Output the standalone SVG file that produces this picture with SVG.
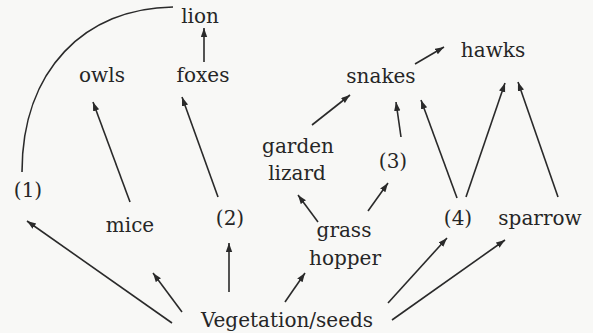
<svg xmlns="http://www.w3.org/2000/svg" width="593" height="333" viewBox="0 0 593 333">
<style>
.t{font-family:"DejaVu Serif","Liberation Serif",serif;font-size:20px;fill:#262626;text-anchor:middle}
.c line,.c path{stroke:#2a2a2a;stroke-width:1.6;fill:none}
</style>
<defs>
<marker id="ah" markerUnits="userSpaceOnUse" markerWidth="10" markerHeight="8" refX="9" refY="3.2" orient="auto">
<path d="M0,0 L9,3.2 L0,6.4 z" fill="#2a2a2a"/>
</marker>
</defs>
<rect width="593" height="333" fill="#f8f8f6"/>
<g class="c" id="connectors">
<path d="M22,172 C22,70 85,8 173,7"/>
<line x1="204" y1="62" x2="204" y2="28" marker-end="url(#ah)"/>
<line x1="130" y1="202" x2="93" y2="102" marker-end="url(#ah)"/>
<line x1="218" y1="197" x2="182" y2="97" marker-end="url(#ah)"/>
<line x1="172" y1="323" x2="27" y2="221" marker-end="url(#ah)"/>
<line x1="182" y1="312" x2="153" y2="273" marker-end="url(#ah)"/>
<line x1="229" y1="292" x2="229" y2="243" marker-end="url(#ah)"/>
<line x1="285" y1="302" x2="305" y2="273" marker-end="url(#ah)"/>
<line x1="318" y1="222" x2="298" y2="195" marker-end="url(#ah)"/>
<line x1="368" y1="211" x2="388" y2="183" marker-end="url(#ah)"/>
<line x1="312" y1="125" x2="350" y2="95" marker-end="url(#ah)"/>
<line x1="401" y1="137" x2="396" y2="102" marker-end="url(#ah)"/>
<line x1="457" y1="198" x2="421" y2="100" marker-end="url(#ah)"/>
<line x1="466" y1="197" x2="505" y2="83" marker-end="url(#ah)"/>
<line x1="558" y1="197" x2="518" y2="82" marker-end="url(#ah)"/>
<line x1="415" y1="64" x2="444" y2="47" marker-end="url(#ah)"/>
<line x1="388" y1="303" x2="447" y2="238" marker-end="url(#ah)"/>
<line x1="392" y1="320" x2="505" y2="240" marker-end="url(#ah)"/>
</g>
<g id="lion"><text class="t" x="200" y="23">lion</text></g>
<g id="owls"><text class="t" x="102" y="82">owls</text></g>
<g id="foxes"><text class="t" x="203" y="82">foxes</text></g>
<g id="snakes"><text class="t" x="381" y="83">snakes</text></g>
<g id="hawks"><text class="t" x="493" y="57">hawks</text></g>
<g id="garden-lizard"><text class="t" x="298" y="153">garden</text><text class="t" x="297" y="180">lizard</text></g>
<g id="n3"><text class="t" x="393" y="168">(3)</text></g>
<g id="n1"><text class="t" x="28" y="197">(1)</text></g>
<g id="mice"><text class="t" x="130" y="232">mice</text></g>
<g id="n2"><text class="t" x="230" y="225">(2)</text></g>
<g id="grasshopper"><text class="t" x="344" y="237">grass</text><text class="t" x="345" y="265">hopper</text></g>
<g id="n4"><text class="t" x="458" y="225">(4)</text></g>
<g id="sparrow"><text class="t" x="540" y="225">sparrow</text></g>
<g id="vegetation"><text class="t" x="287" y="327">Vegetation/seeds</text></g>
</svg>
